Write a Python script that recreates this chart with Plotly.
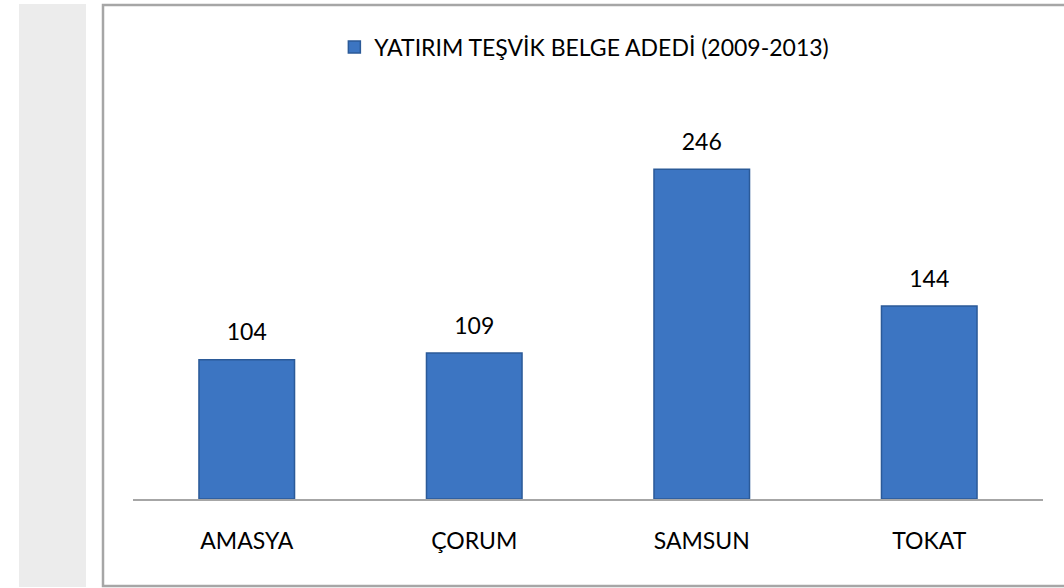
import plotly.graph_objects as go

categories = ["AMASYA", "ÇORUM", "SAMSUN", "TOKAT"]
values = [104, 109, 246, 144]
series_name = "YATIRIM TEŞVİK BELGE ADEDİ (2009-2013)"

W, H = 1064, 588
ml, mr, mt, mb = 133, 21, 97, 89
FONT = "Lato"
FS = 23

fig = go.Figure()
fig.add_trace(go.Bar(
    x=categories, y=values, name=series_name,
    marker=dict(color="#3c75c2", line=dict(color="#2b5a98", width=1.5)),
    width=0.42,
    showlegend=True,
))
# value labels, offset above bar tops via an invisible marker
fig.add_trace(go.Scatter(
    x=categories, y=values, mode="markers+text",
    text=[str(v) for v in values], textposition="top center",
    textfont=dict(size=FS, color="#000000", family=FONT),
    marker=dict(size=20, opacity=0),
    cliponaxis=False, showlegend=False, hoverinfo="skip",
))

fig.update_layout(
    width=W, height=H,
    margin=dict(l=ml, r=mr, t=mt, b=mb, pad=0),
    paper_bgcolor="#ffffff", plot_bgcolor="#ffffff",
    font=dict(family=FONT, size=FS, color="#000000"),
    showlegend=True,
    legend=dict(orientation="h", x=0.496, xanchor="center", y=1.124, yanchor="middle",
                font=dict(size=FS, family=FONT), itemwidth=30,
                bgcolor="rgba(0,0,0,0)"),
    xaxis=dict(showline=True, linecolor="#a6a6a6", linewidth=1.5, ticks="",
               showgrid=False, zeroline=False, ticklabelstandoff=21,
               tickfont=dict(size=FS, family=FONT)),
    yaxis=dict(range=[0, 300], visible=False, showgrid=False, zeroline=False),
    shapes=[
        dict(type="rect", xref="paper", yref="paper", layer="below",
             x0=-(ml - 19) / (W - ml - mr), x1=-(ml - 86) / (W - ml - mr),
             y0=-(mb - 1) / (H - mt - mb), y1=(H - mb - 4) / (H - mt - mb),
             fillcolor="#ececec", line=dict(width=0)),
        dict(type="rect", xref="paper", yref="paper", layer="below",
             x0=-(ml - 103) / (W - ml - mr), x1=(1080 - ml) / (W - ml - mr),
             y0=-(mb - 2) / (H - mt - mb), y1=(H - mb - 5) / (H - mt - mb),
             fillcolor="rgba(0,0,0,0)", line=dict(color="#a6a6a6", width=2.5)),
    ],
)

fig.write_html("out.html", config={"displayModeBar": False},
               post_script="document.body.style.margin='0';")
